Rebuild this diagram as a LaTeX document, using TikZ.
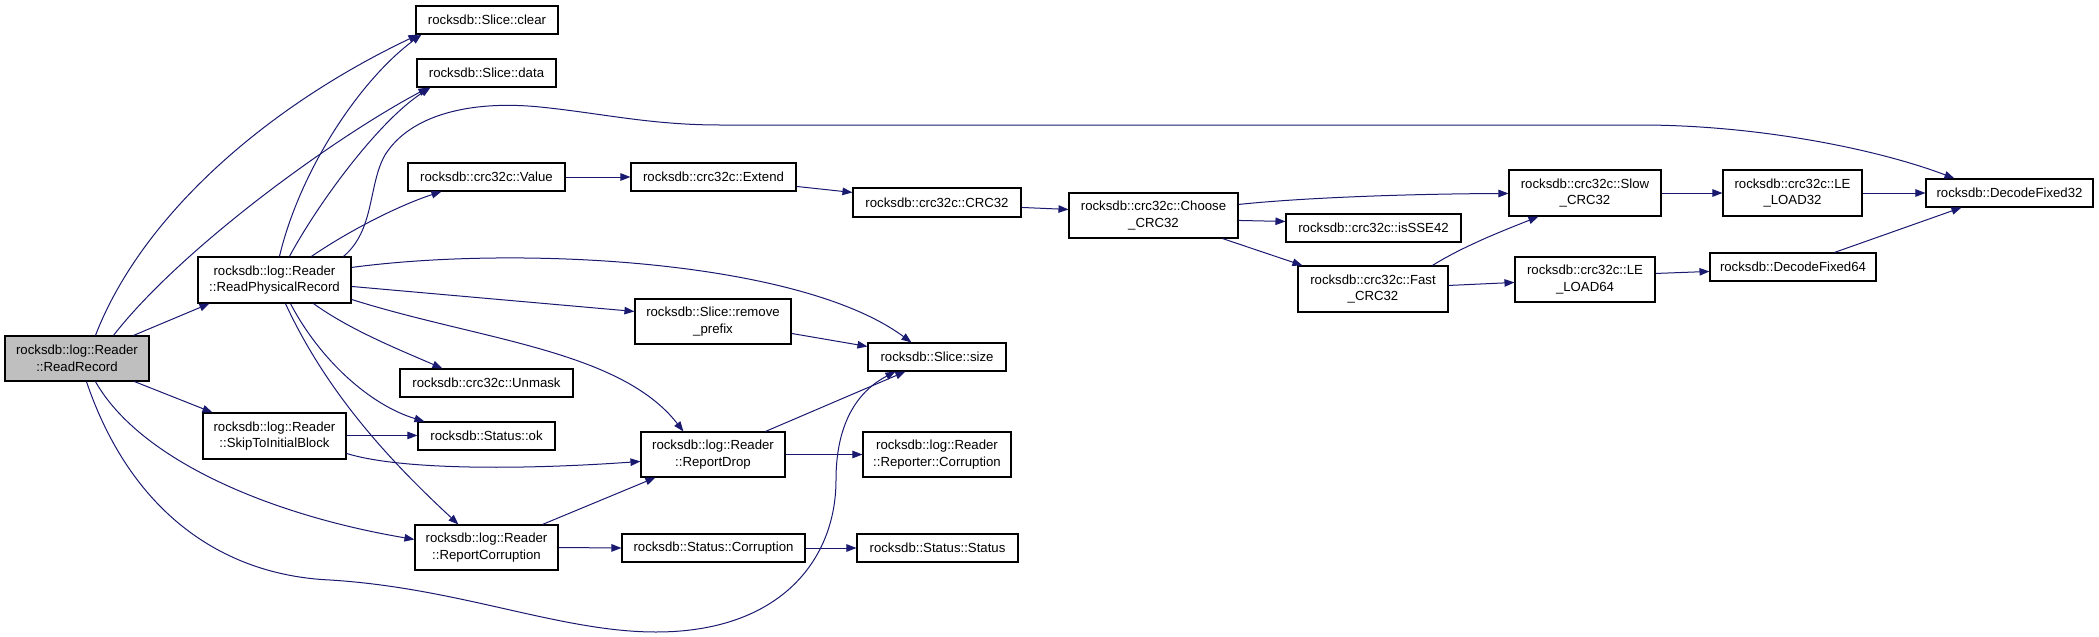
\documentclass[tikz,border=0pt]{standalone}
\usepackage{fontspec}
\setmainfont{Liberation Sans}
\usetikzlibrary{arrows.meta}
\definecolor{edgeblue}{RGB}{25,25,112}
\definecolor{hlgray}{RGB}{191,191,191}
\begin{document}
\begin{tikzpicture}[x=1pt,y=-1pt,
  box/.style={draw=black,line width=1.1pt,fill=white,inner sep=0pt,align=center,
    font=\fontsize{13.2}{16.7}\selectfont},
  edge/.style={draw=edgeblue,line width=1pt,-{Triangle[length=10pt,width=7.5pt]}}]
\useasboundingbox (0,0) rectangle (2099,637);
% nodes
\node[box,fill=hlgray,minimum width=144,minimum height=45] (RR) at (77,358.5) {rocksdb::log::Reader\\::ReadRecord};
\node[box,minimum width=142,minimum height=28] (SC) at (487,20) {rocksdb::Slice::clear};
\node[box,minimum width=139,minimum height=28] (SD) at (486.5,73) {rocksdb::Slice::data};
\node[box,minimum width=157,minimum height=28] (VAL) at (486.5,177) {rocksdb::crc32c::Value};
\node[box,minimum width=153,minimum height=46] (RPR) at (274.5,280) {rocksdb::log::Reader\\::ReadPhysicalRecord};
\node[box,minimum width=173,minimum height=28] (UNM) at (486.5,383) {rocksdb::crc32c::Unmask};
\node[box,minimum width=137,minimum height=28] (OK) at (486.5,436) {rocksdb::Status::ok};
\node[box,minimum width=143,minimum height=46] (SKIP) at (274.5,436) {rocksdb::log::Reader\\::SkipToInitialBlock};
\node[box,minimum width=143,minimum height=45] (RC) at (486.5,547.5) {rocksdb::log::Reader\\::ReportCorruption};
\node[box,minimum width=165,minimum height=28] (EXT) at (713.5,177) {rocksdb::crc32c::Extend};
\node[box,minimum width=168,minimum height=29] (CRC) at (937,202.5) {rocksdb::crc32c::CRC32};
\node[box,minimum width=169,minimum height=45] (CHO) at (1153.5,215.5) {rocksdb::crc32c::Choose\\\_CRC32};
\node[box,minimum width=175,minimum height=28] (SSE) at (1373.5,228) {rocksdb::crc32c::isSSE42};
\node[box,minimum width=150,minimum height=46] (FAST) at (1373,289) {rocksdb::crc32c::Fast\\\_CRC32};
\node[box,minimum width=156,minimum height=45] (RP) at (713,321.5) {rocksdb::Slice::remove\\\_prefix};
\node[box,minimum width=138,minimum height=28] (SZ) at (937,357) {rocksdb::Slice::size};
\node[box,minimum width=144,minimum height=45] (RD) at (713,454.5) {rocksdb::log::Reader\\::ReportDrop};
\node[box,minimum width=148,minimum height=45] (REP) at (937,454.5) {rocksdb::log::Reader\\::Reporter::Corruption};
\node[box,minimum width=183,minimum height=28] (STC) at (713.5,548) {rocksdb::Status::Corruption};
\node[box,minimum width=161,minimum height=28] (STS) at (937.5,548) {rocksdb::Status::Status};
\node[box,minimum width=152,minimum height=46] (SLOW) at (1585,193) {rocksdb::crc32c::Slow\\\_CRC32};
\node[box,minimum width=139,minimum height=46] (LE32) at (1792.5,193) {rocksdb::crc32c::LE\\\_LOAD32};
\node[box,minimum width=167,minimum height=28] (DF32) at (2009.5,193) {rocksdb::DecodeFixed32};
\node[box,minimum width=140,minimum height=45] (LE64) at (1585,279.5) {rocksdb::crc32c::LE\\\_LOAD64};
\node[box,minimum width=166,minimum height=28] (DF64) at (1793,267) {rocksdb::DecodeFixed64};
% edges from ReadRecord
\draw[edge] ([xshift=91pt]RR.north west) .. controls (140,220) and (260,110) .. ([xshift=3pt]SC.south west);
\draw[edge] ([xshift=109pt]RR.north west) .. controls (180,250) and (330,140) .. ([xshift=12pt]SD.south west);
\draw[edge] ([xshift=129pt]RR.north west) -- ([xshift=12pt]RPR.south west);
\draw[edge] ([xshift=130pt]RR.south west) -- ([xshift=10pt]SKIP.north west);
\draw[edge] ([xshift=91pt]RR.south west) .. controls (140,460) and (270,515) .. ([yshift=-15pt]RC.north west);
\draw[edge] ([xshift=82pt]RR.south west) .. controls (130,510) and (220,575) .. (330,580)
  .. controls (460,588) and (560,632) .. (656,632)
  .. controls (780,632) and (836,560) .. (836,480)
  .. controls (836,420) and (860,390) .. ([xshift=28pt]SZ.south west);
% edges from ReadPhysicalRecord
\draw[edge] ([xshift=82pt]RPR.north west) .. controls (300,170) and (360,80) .. ([xshift=6pt]SC.south west);
\draw[edge] ([xshift=92pt]RPR.north west) .. controls (320,200) and (380,120) .. ([xshift=14pt]SD.south west);
\draw[edge] ([xshift=114pt]RPR.north west) .. controls (350,230) and (400,205) .. ([xshift=34pt]VAL.south west);
\draw[edge] ([xshift=146pt]RPR.north west) .. controls (375,230) and (368,185) .. (385,155)
  .. controls (410,115) and (470,100) .. (540,107)
  .. controls (600,113) and (650,125) .. (720,125) -- (1640,125)
  .. controls (1760,125) and (1880,150) .. ([xshift=29pt]DF32.north west);
\draw[edge] ([yshift=-11pt]RPR.north east) .. controls (520,245) and (800,260) .. ([xshift=44pt]SZ.north west);
\draw[edge] ([yshift=-30pt]RPR.north east) -- ([yshift=-13pt]RP.north west);
\draw[edge] ([yshift=-43pt]RPR.north east) .. controls (480,340) and (620,350) .. ([xshift=43pt]RD.north west);
\draw[edge] ([xshift=116pt]RPR.south west) .. controls (350,330) and (400,350) .. ([xshift=43pt]UNM.north west);
\draw[edge] ([xshift=93pt]RPR.south west) .. controls (320,360) and (370,405) .. ([xshift=7pt]OK.north west);
\draw[edge] ([xshift=88pt]RPR.south west) .. controls (330,400) and (400,470) .. ([xshift=44pt]RC.north west);
% SkipToInitialBlock
\draw[edge] ([yshift=-23pt]SKIP.north east) -- ([yshift=-14pt]OK.north west);
\draw[edge] ([yshift=-41pt]SKIP.north east) .. controls (400,470) and (520,470) .. ([yshift=-30pt]RD.north west);
% ReportCorruption
\draw[edge] ([xshift=128pt]RC.north west) -- ([xshift=15pt]RD.south west);
\draw[edge] (RC.east) -- (STC.west);
% crc chain
\draw[edge] (VAL.east) -- (EXT.west);
\draw[edge] ([yshift=-24pt]EXT.north east) -- ([yshift=-5pt]CRC.north west);
\draw[edge] ([yshift=-20pt]CRC.north east) -- ([yshift=-17pt]CHO.north west);
\draw[edge] ([yshift=-12pt]CHO.north east) .. controls (1300,198) and (1400,194) .. ([yshift=-24pt]SLOW.north west);
\draw[edge] ([yshift=-28pt]CHO.north east) -- ([yshift=-8pt]SSE.north west);
\draw[edge] ([xshift=-16pt]CHO.south east) -- ([xshift=5pt]FAST.north west);
\draw[edge] ([xshift=135pt]FAST.north west) .. controls (1465,245) and (1510,228) .. ([xshift=30pt]SLOW.south west);
\draw[edge] ([yshift=-20pt]FAST.north east) -- ([yshift=-26pt]LE64.north west);
\draw[edge] (SLOW.east) -- (LE32.west);
\draw[edge] (LE32.east) -- (DF32.west);
\draw[edge] ([yshift=-17pt]LE64.north east) -- ([yshift=-19pt]DF64.north west);
\draw[edge] ([xshift=125pt]DF64.north west) -- ([xshift=36pt]DF32.south west);
% Slice / report
\draw[edge] ([yshift=-35pt]RP.north east) -- ([yshift=-4pt]SZ.north west);
\draw[edge] ([xshift=125pt]RD.north west) -- ([xshift=38pt]SZ.south west);
\draw[edge] (RD.east) -- (REP.west);
\draw[edge] (STC.east) -- (STS.west);
\end{tikzpicture}
\end{document}
